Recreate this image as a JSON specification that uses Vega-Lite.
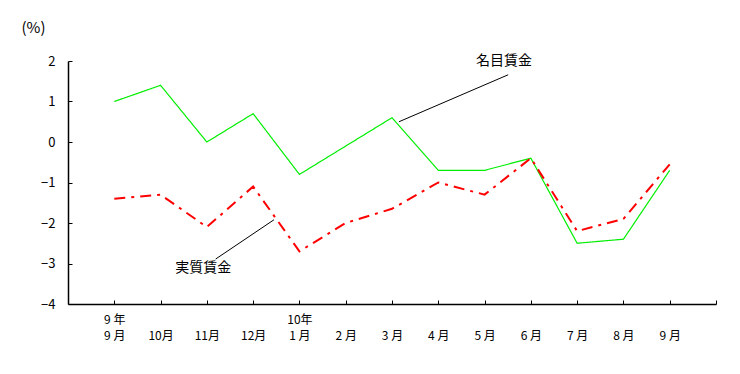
{
  "$schema": "https://vega.github.io/schema/vega-lite/v6.json",
  "width": 648,
  "height": 243,
  "autosize": {"type": "none"},
  "padding": {"left": 68, "top": 61, "right": 24, "bottom": 70},
  "background": "white",
  "config": {"view": {"stroke": null}, "font": "Noto Sans CJK JP"},
  "datasets": {
    "wages": [
      {"t": 1, "series": "名目賃金", "value": 1.0},
      {"t": 2, "series": "名目賃金", "value": 1.4},
      {"t": 3, "series": "名目賃金", "value": 0.0},
      {"t": 4, "series": "名目賃金", "value": 0.7},
      {"t": 5, "series": "名目賃金", "value": -0.8},
      {"t": 6, "series": "名目賃金", "value": -0.1},
      {"t": 7, "series": "名目賃金", "value": 0.6},
      {"t": 8, "series": "名目賃金", "value": -0.7},
      {"t": 9, "series": "名目賃金", "value": -0.7},
      {"t": 10, "series": "名目賃金", "value": -0.4},
      {"t": 11, "series": "名目賃金", "value": -2.5},
      {"t": 12, "series": "名目賃金", "value": -2.4},
      {"t": 13, "series": "名目賃金", "value": -0.7},
      {"t": 1, "series": "実質賃金", "value": -1.4},
      {"t": 2, "series": "実質賃金", "value": -1.3},
      {"t": 3, "series": "実質賃金", "value": -2.1},
      {"t": 4, "series": "実質賃金", "value": -1.1},
      {"t": 5, "series": "実質賃金", "value": -2.7},
      {"t": 6, "series": "実質賃金", "value": -2.0},
      {"t": 7, "series": "実質賃金", "value": -1.65},
      {"t": 8, "series": "実質賃金", "value": -1.0},
      {"t": 9, "series": "実質賃金", "value": -1.3},
      {"t": 10, "series": "実質賃金", "value": -0.4},
      {"t": 11, "series": "実質賃金", "value": -2.2},
      {"t": 12, "series": "実質賃金", "value": -1.9},
      {"t": 13, "series": "実質賃金", "value": -0.55}
    ],
    "leaders": [
      {"x1": 7.15, "y1": 0.5, "x2": 9.51, "y2": 1.66},
      {"x1": 3.19, "y1": -2.89, "x2": 4.45, "y2": -1.92}
    ],
    "notes": [
      {"x": 9.42, "y": 2.0, "text": "名目賃金"},
      {"x": 2.92, "y": -3.12, "text": "実質賃金"}
    ]
  },
  "layer": [
    {
      "mark": {"type": "rule", "color": "black", "strokeWidth": 1},
      "encoding": {"y": {"datum": 0, "type": "quantitative"}}
    },
    {
      "data": {"name": "wages"},
      "mark": {"type": "line", "strokeCap": "butt"},
      "encoding": {
        "x": {
          "field": "t",
          "type": "quantitative",
          "scale": {"domain": [0, 14], "nice": false, "zero": false},
          "axis": {
            "values": [1, 2, 3, 4, 5, 6, 7, 8, 9, 10, 11, 12, 13, 14],
            "labelExpr": "[datum.value == 1 ? '9 年' : datum.value == 5 ? '10年' : '', ['', '9 月', '10月', '11月', '12月', '1 月', '2 月', '3 月', '4 月', '5 月', '6 月', '7 月', '8 月', '9 月', ''][datum.value]]",
            "title": null,
            "grid": false,
            "domainColor": "black",
            "domainWidth": 1.5,
            "tickColor": "black",
            "tickWidth": 1,
            "tickSize": -4,
            "labelPadding": 14,
            "labelFontSize": 12,
            "labelColor": "black",
            "labelLineHeight": 16,
            "labelBaseline": "top",
            "labelFlush": false,
            "labelOverlap": false
          }
        },
        "y": {
          "field": "value",
          "type": "quantitative",
          "scale": {"domain": [-4, 2], "nice": false},
          "axis": {
            "values": [-4, -3, -2, -1, 0, 1, 2],
            "title": "(%)",
            "titleAngle": 0,
            "titleX": -35,
            "titleY": -34,
            "titleAlign": "center",
            "titleBaseline": "middle",
            "titleFontSize": 15,
            "titleFontWeight": "normal",
            "titleColor": "black",
            "grid": false,
            "domainColor": "black",
            "domainWidth": 1.5,
            "tickColor": "black",
            "tickWidth": 1,
            "tickSize": -4,
            "labelPadding": 17,
            "labelFontSize": 13,
            "labelColor": "black"
          }
        },
        "color": {
          "field": "series",
          "type": "nominal",
          "scale": {"domain": ["名目賃金", "実質賃金"], "range": ["#00ee00", "#ff0000"]},
          "legend": null
        },
        "strokeDash": {
          "field": "series",
          "type": "nominal",
          "scale": {"domain": ["名目賃金", "実質賃金"], "range": [[1, 0], [11, 6, 3, 6]]},
          "legend": null
        },
        "strokeWidth": {
          "field": "series",
          "type": "nominal",
          "scale": {"domain": ["名目賃金", "実質賃金"], "range": [1.2, 2]},
          "legend": null
        }
      }
    },
    {
      "data": {"name": "leaders"},
      "mark": {"type": "rule", "color": "black", "strokeWidth": 1},
      "encoding": {
        "x": {"field": "x1", "type": "quantitative"},
        "y": {"field": "y1", "type": "quantitative"},
        "x2": {"field": "x2"},
        "y2": {"field": "y2"}
      }
    },
    {
      "data": {"name": "notes"},
      "mark": {"type": "text", "fontSize": 14, "color": "black", "align": "center", "baseline": "middle"},
      "encoding": {
        "x": {"field": "x", "type": "quantitative"},
        "y": {"field": "y", "type": "quantitative"},
        "text": {"field": "text"}
      }
    }
  ]
}
